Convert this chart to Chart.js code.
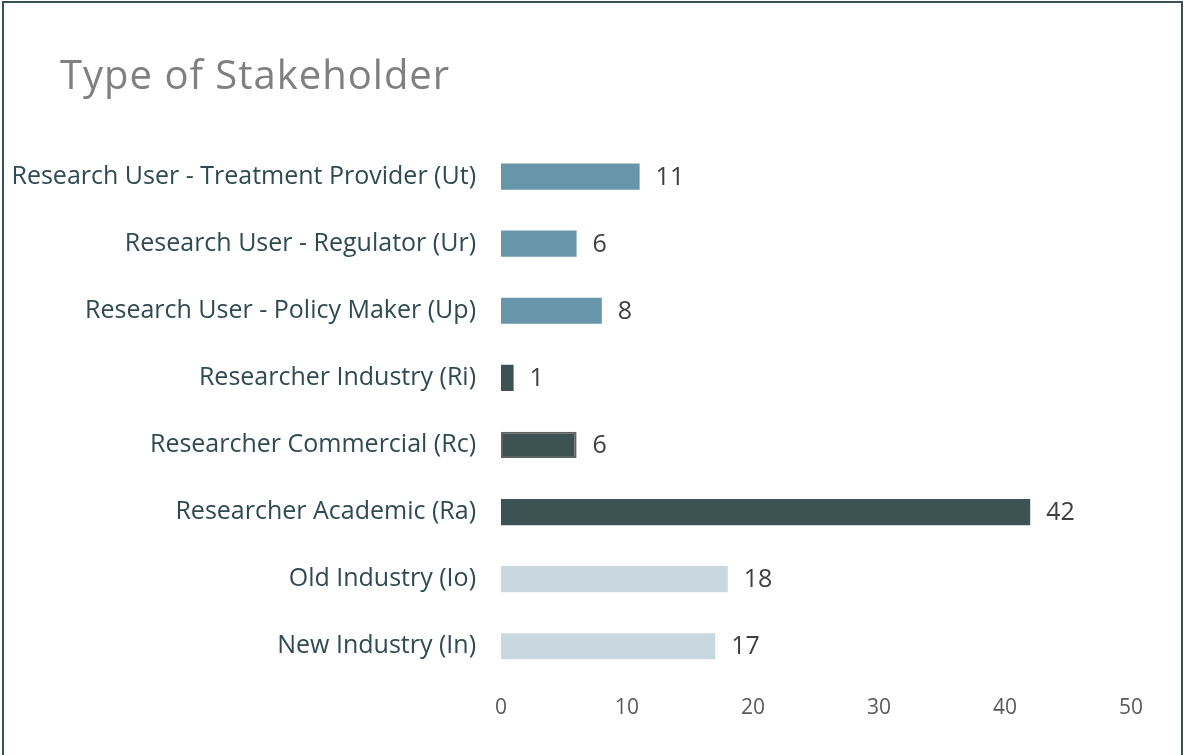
<!DOCTYPE html>
<html>
<head>
<meta charset="utf-8">
<script src="https://cdn.jsdelivr.net/npm/chart.js@4.4.1/dist/chart.umd.min.js"></script>
<style>
  html, body { margin: 0; padding: 0; background: #ffffff; }
  #wrap { position: relative; width: 1187px; height: 755px; overflow: hidden; background: #fff; }
  #frame { position: absolute; left: 2px; top: 1px; width: 1181px; height: 800px; border: 2px solid #3a5056; box-sizing: border-box; }
  #title { position: absolute; left: 60px; top: 46px; font-family: "Open Sans", sans-serif; font-size: 40px; color: #808080; white-space: nowrap; letter-spacing: 1px; }
  #c { position: absolute; left: 0; top: 0; }
</style>
</head>
<body>
<div id="wrap">
  <canvas id="c" width="1187" height="755"></canvas>
  <div id="frame"></div>
  <div id="title">Type of Stakeholder</div>
</div>
<script>
const categories = [
  "Research User - Treatment Provider (Ut)",
  "Research User - Regulator (Ur)",
  "Research User - Policy Maker (Up)",
  "Researcher Industry (Ri)",
  "Researcher Commercial (Rc)",
  "Researcher Academic (Ra)",
  "Old Industry (Io)",
  "New Industry (In)"
];
const values = [11, 6, 8, 1, 6, 42, 18, 17];
const barColors = ["#6796aa", "#6796aa", "#6796aa", "#3c5253", "#3c5253", "#3c5253", "#c9d8df", "#c9d8df"];
const barBorders = [null, null, null, null, "#5f6262", null, null, null];
const xTicks = [0, 10, 20, 30, 40, 50];

const FONT = "'Open Sans', sans-serif";

const valueLabels = {
  id: 'valueLabels',
  afterDatasetsDraw(chart) {
    const ctx = chart.ctx;
    const meta = chart.getDatasetMeta(0);
    ctx.save();
    ctx.font = "25px " + FONT;
    ctx.fillStyle = "#404040";
    ctx.textAlign = "left";
    ctx.textBaseline = "middle";
    meta.data.forEach((bar, i) => {
      ctx.fillText(String(values[i]), bar.x + 16, bar.y + 1);
    });
    ctx.restore();
  }
};

new Chart(document.getElementById('c'), {
  type: 'bar',
  data: {
    labels: categories,
    datasets: [{
      data: values,
      backgroundColor: barColors,
      borderColor: barBorders.map(c => c || 'rgba(0,0,0,0)'),
      borderWidth: barBorders.map(c => c ? 2 : 0),
      borderSkipped: false,
      barPercentage: 0.39,
      categoryPercentage: 1.0
    }]
  },
  options: {
    indexAxis: 'y',
    responsive: false,
    animation: false,
    layout: { padding: { left: 0, right: 56, top: 143, bottom: 26 } },
    plugins: { legend: { display: false }, title: { display: false }, tooltip: { enabled: false } },
    scales: {
      x: {
        min: 0, max: 50,
        afterBuildTicks(scale) { scale.ticks = xTicks.map(v => ({ value: v })); },
        grid: { display: false },
        border: { display: false },
        ticks: { color: "#595959", font: { family: FONT, size: 21 }, padding: 8 }
      },
      y: {
        afterFit(scale) { scale.width = 501; },
        grid: { display: false },
        border: { display: false },
        ticks: { color: "#2f4a52", font: { family: FONT, size: 25 }, padding: 17 }
      }
    }
  },
  plugins: [valueLabels]
});
</script>
</body>
</html>
